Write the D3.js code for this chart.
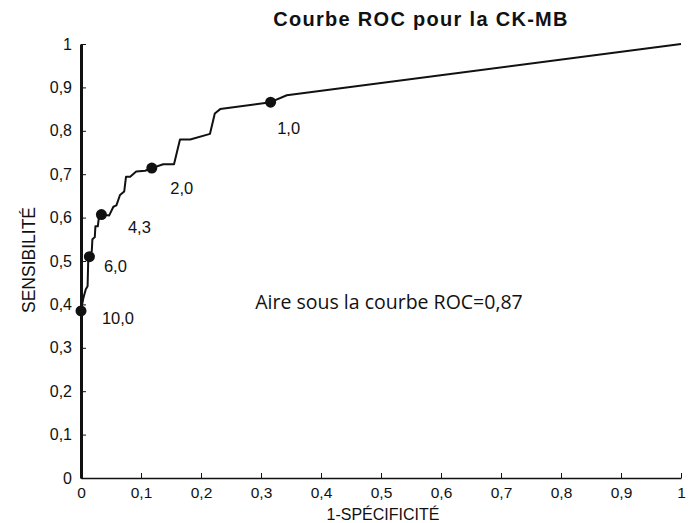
<!DOCTYPE html>
<html>
<head>
<meta charset="utf-8">
<script src="https://cdn.jsdelivr.net/npm/d3@7"></script>
<style>
  body { margin: 0; background: #fff; }
  text { font-family: "Liberation Sans", Arial, sans-serif; fill: #111; }
</style>
</head>
<body>
<script>
// courbe ROC (1-spécificité, sensibilité)
var rocX = [0, 0.004, 0.008, 0.011, 0.012, 0.014, 0.018, 0.019, 0.023, 0.024, 0.028, 0.03, 0.034,
	0.047, 0.054, 0.059, 0.065, 0.072, 0.075, 0.082, 0.092, 0.107, 0.118, 0.137, 0.155, 0.165,
	0.182, 0.215, 0.223, 0.232, 0.316, 0.343, 1];
var rocY = [0.385, 0.415, 0.435, 0.442, 0.5, 0.51, 0.523, 0.55, 0.555, 0.58, 0.58, 0.602, 0.607,
	0.605, 0.625, 0.628, 0.652, 0.66, 0.694, 0.694, 0.706, 0.708, 0.714, 0.723, 0.723, 0.78,
	0.78, 0.793, 0.84, 0.85, 0.866, 0.882, 1];

// seuils marqués
var seuilX = [0, 0.014, 0.034, 0.118, 0.316];
var seuilY = [0.385, 0.51, 0.607, 0.714, 0.866];
var seuilLabels = ["10,0", "6,0", "4,3", "2,0", "1,0"];
var labelDx = [37, 26, 38, 30, 18];
var labelDy = [13, 15, 18, 26, 32];

var xTicks = [0, 0.1, 0.2, 0.3, 0.4, 0.5, 0.6, 0.7, 0.8, 0.9, 1];
var yTicks = [0, 0.1, 0.2, 0.3, 0.4, 0.5, 0.6, 0.7, 0.8, 0.9, 1];

var width = 690, height = 523;
var margin = {top: 44, right: 9, bottom: 45, left: 81};

var svg = d3.select("body").append("svg")
	.attr("width", width)
	.attr("height", height);

var x = d3.scaleLinear().domain([0, 1]).range([margin.left, width - margin.right]);
var y = d3.scaleLinear().domain([0, 1]).range([height - margin.bottom, margin.top]);

var fmt = function(d) { return d === 0 || d === 1 ? String(d) : d3.format(".1f")(d).replace(".", ","); };

// axe X
var gx = svg.append("g")
	.attr("transform", "translate(0," + y(0) + ")")
	.call(d3.axisBottom(x).tickValues(xTicks).tickFormat(fmt).tickSize(-5).tickSizeOuter(0).tickPadding(9));
gx.select(".domain").attr("stroke", "#111").attr("stroke-width", 1.5);
gx.selectAll(".tick line").attr("stroke", "#111");
gx.selectAll("text").style("font-size", "15.5px").attr("fill", "#111");

// axe Y
var gy = svg.append("g")
	.attr("transform", "translate(" + x(0) + ",0)")
	.call(d3.axisLeft(y).tickValues(yTicks).tickFormat(fmt).tickSize(-5).tickSizeOuter(0).tickPadding(9));
gy.select(".domain").attr("stroke", "#111").attr("stroke-width", 3);
gy.selectAll(".tick line").attr("stroke", "#111");
gy.selectAll("text").style("font-size", "16px").attr("fill", "#111");

// courbe
var line = d3.line()
	.x(function(d) { return x(d[0]); })
	.y(function(d) { return y(d[1]); });

svg.append("path")
	.datum(d3.zip(rocX, rocY))
	.attr("d", line)
	.attr("fill", "none")
	.attr("stroke", "#111")
	.attr("stroke-width", 2)
	.attr("stroke-linejoin", "round");

var seuils = d3.range(seuilX.length);

svg.selectAll(".seuil")
	.data(seuils)
	.enter().append("circle")
	.attr("class", "seuil")
	.attr("cx", function(i) { return x(seuilX[i]); })
	.attr("cy", function(i) { return y(seuilY[i]); })
	.attr("r", 5.5)
	.style("fill", "#111");

svg.selectAll(".seuil-label")
	.data(seuils)
	.enter().append("text")
	.attr("class", "seuil-label")
	.attr("x", function(i) { return x(seuilX[i]) + labelDx[i]; })
	.attr("y", function(i) { return y(seuilY[i]) + labelDy[i]; })
	.attr("text-anchor", "middle")
	.style("font-size", "16.5px")
	.text(function(i) { return seuilLabels[i]; });

// titre et légendes
svg.append("text")
	.attr("x", 421)
	.attr("y", 26)
	.attr("text-anchor", "middle")
	.style("font-size", "20px")
	.style("font-weight", "bold")
	.style("letter-spacing", "1.3px")
	.text("Courbe ROC pour la CK-MB");

svg.append("text")
	.attr("x", 389)
	.attr("y", 309)
	.attr("text-anchor", "middle")
	.style("font-family", "'Open Sans', sans-serif")
	.style("font-size", "19.5px")
	.text("Aire sous la courbe ROC=0,87");

svg.append("text")
	.attr("x", 383)
	.attr("y", 520)
	.attr("text-anchor", "middle")
	.style("font-size", "16px")
	.text("1-SPÉCIFICITÉ");

svg.append("text")
	.attr("transform", "translate(35,260) rotate(-90)")
	.attr("text-anchor", "middle")
	.style("font-size", "17.5px")
	.text("SENSIBILITÉ");
</script>
</body>
</html>
